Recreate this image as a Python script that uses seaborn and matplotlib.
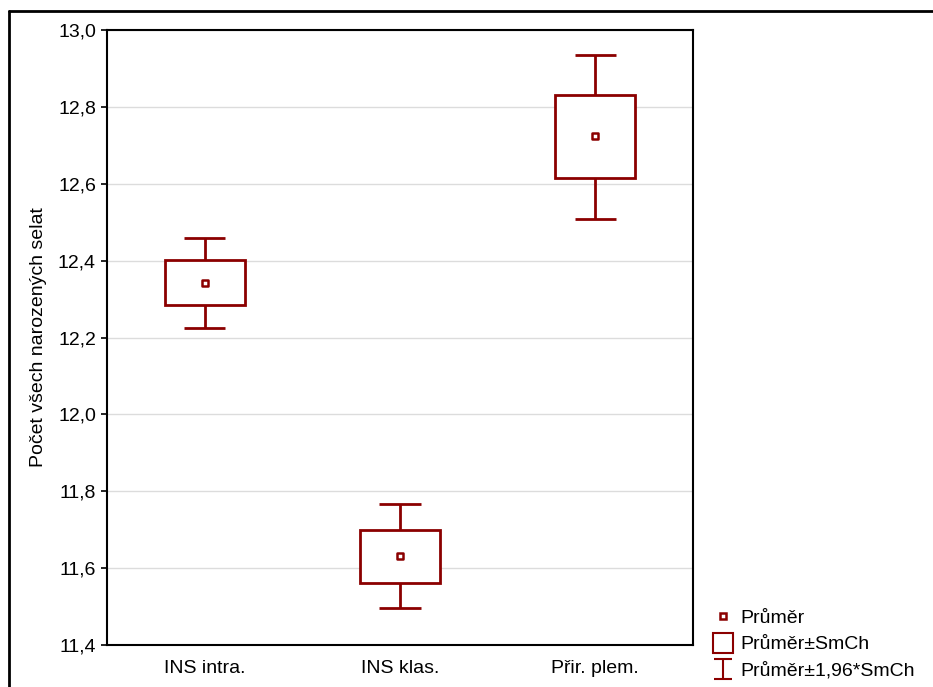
import matplotlib
matplotlib.use("Agg")
import matplotlib.pyplot as plt
import seaborn as sns
from matplotlib.lines import Line2D
from matplotlib.path import Path

# data
groups = ["INS intra.", "INS klas.", "Přir. plem."]
means = [12.342, 11.632, 12.724]
se_lo = [12.284, 11.562, 12.614]
se_hi = [12.401, 11.699, 12.832]
ci_lo = [12.225, 11.496, 12.508]
ci_hi = [12.460, 11.767, 12.935]
yticks = [11.4, 11.6, 11.8, 12.0, 12.2, 12.4, 12.6, 12.8, 13.0]
ytick_labels = ["11,4", "11,6", "11,8", "12,0", "12,2", "12,4", "12,6", "12,8", "13,0"]
legend_labels = ["Průměr", "Průměr±SmCh", "Průměr±1,96*SmCh"]

red = "#8b0000"

sns.set_style("white")
plt.rcParams['font.family'] = ['Liberation Sans', 'DejaVu Sans']
plt.rcParams['font.size'] = 14
plt.rcParams['text.color'] = 'black'
plt.rcParams['axes.labelcolor'] = 'black'
plt.rcParams['xtick.color'] = 'black'
plt.rcParams['ytick.color'] = 'black'

fig = plt.figure(figsize=(9.33, 6.87), dpi=100)
ax = fig.add_axes([107 / 933, 1 - 645 / 687, 586 / 933, 615 / 687])

# whiskers (mean ± 1.96*SE)
caps_l = [i - 0.105 for i in range(3)]
caps_r = [i + 0.105 for i in range(3)]
ax.vlines(groups, ci_lo, ci_hi, color=red, lw=2, zorder=2)
ax.hlines(ci_lo, caps_l, caps_r, color=red, lw=2, zorder=2)
ax.hlines(ci_hi, caps_l, caps_r, color=red, lw=2, zorder=2)

# boxes (mean ± SE)
ax.bar(groups, [h - l for h, l in zip(se_hi, se_lo)], bottom=se_lo, width=0.41,
       facecolor="white", edgecolor=red, linewidth=2, zorder=3)

# means
sns.scatterplot(x=groups, y=means, marker="s", s=22, color="white",
                edgecolor=red, linewidth=1.8, zorder=4, ax=ax)

ax.set_xlim(-0.5, 2.5)
ax.set_ylim(11.4, 13.0)
ax.set_yticks(yticks)
ax.set_yticklabels(ytick_labels)
ax.set_ylabel("Počet všech narozených selat", labelpad=8, fontsize=14)
ax.yaxis.grid(True, color="#dcdcdc", lw=1)
ax.set_axisbelow(True)
ax.tick_params(axis="y", left=True, length=4, width=1.2, pad=4, labelsize=14)
ax.tick_params(axis="x", bottom=False, pad=7, labelsize=14)
for sp in ax.spines.values():
    sp.set_color("black")
    sp.set_linewidth(1.5)

# legend
ibeam = Path([(-0.9, -1), (0.9, -1), (0, -1), (0, 1), (-0.9, 1), (0.9, 1)],
             [Path.MOVETO, Path.LINETO, Path.MOVETO, Path.LINETO, Path.MOVETO, Path.LINETO])
handles = [
    Line2D([], [], ls="none", marker="s", ms=5, mfc="white", mec=red, mew=1.8),
    Line2D([], [], ls="none", marker="s", ms=14, mfc="white", mec=red, mew=1.5),
    Line2D([], [], ls="none", marker=ibeam, ms=14, mfc="none", mec=red, mew=1.5),
]
fig.legend(handles, legend_labels, loc="lower left", bbox_to_anchor=(697 / 933, -0.012),
           frameon=False, handlelength=1.1, handletextpad=0.35, labelspacing=0.45,
           borderpad=0.3, fontsize=14)

# outer frame
fig.add_artist(Line2D([9 / 933, 9 / 933], [0, 1 - 11 / 687], color="black", lw=2))
fig.add_artist(Line2D([9 / 933, 1], [1 - 11 / 687, 1 - 11 / 687], color="black", lw=2))

fig.savefig("out.png", dpi=100)
